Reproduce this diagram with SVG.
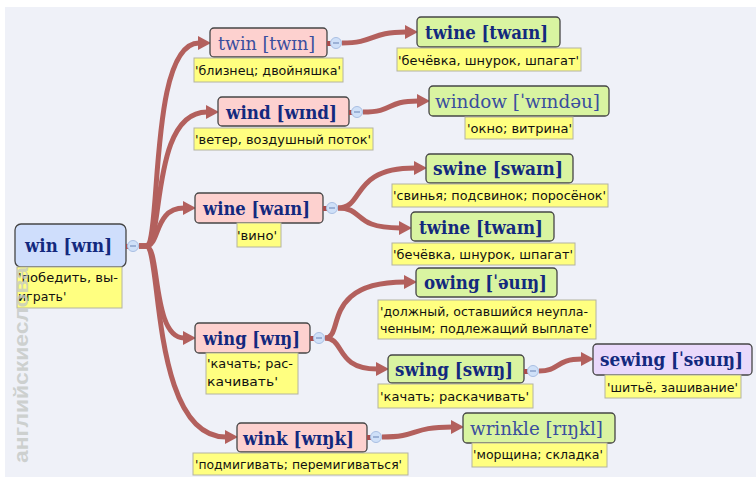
<svg xmlns="http://www.w3.org/2000/svg" width="756" height="478" viewBox="0 0 756 478">
<defs>
<marker id="ah" markerUnits="userSpaceOnUse" markerWidth="14" markerHeight="15" viewBox="0 -7.5 13 15" refX="1" refY="0" orient="auto">
<path d="M0,-7 L13,0 L0,7 z" fill="#b3605d"/>
</marker>
<style>
.c{fill:none;stroke:#b3605d;stroke-width:5;marker-end:url(#ah)}
.box{stroke:#454545;stroke-width:1.3}
.pk{fill:#fdd1cf}.gr{fill:#d9f4a1}.bl{fill:#cfdefc}.lv{fill:#e9d9fb}
.hw{font-family:"DejaVu Serif",serif;font-size:19px;font-stretch:condensed;fill:#13297e}
.b{font-weight:bold}
.r{fill:#3a4e9e}
.note{fill:#ffff80;stroke:#b4b4a0;stroke-width:1}
.nt{font-family:"DejaVu Sans",sans-serif;font-size:12.5px;fill:#111}
.mc{fill:#cfe0f8;stroke:#a9bfe3;stroke-width:1}
.mm{stroke:#7891c0;stroke-width:1.2}
.st{fill:#a84c4c}
</style>
</defs>
<rect x="0" y="0" width="756" height="478" fill="#ffffff"/>
<rect x="5" y="7" width="751" height="470" fill="#eff1f8"/>

<g id="connectors">
<path class="c" d="M139,246 L146,246 C162,246 148,43 199,43"/>
<path class="c" d="M139,246 L146,246 C164,246 150,112 207,112"/>
<path class="c" d="M139,246 L146,246 C160,246 154,208 184,208"/>
<path class="c" d="M139,246 L146,246 C160,246 152,338 184,338"/>
<path class="c" d="M139,246 L146,246 C162,246 150,437 226,437"/>
<path class="c" d="M342,43 C375,43 370,32 406,32"/>
<path class="c" d="M363,112 C395,112 385,101 418,101"/>
<path class="c" d="M338,208 C365,208 350,168 415,168"/>
<path class="c" d="M338,208 C365,208 352,228 400,228"/>
<path class="c" d="M325,338 C345,338 320,282 405,282"/>
<path class="c" d="M325,338 C345,338 335,369 377,369"/>
<path class="c" d="M539,371 C560,371 555,359 582,359"/>
<path class="c" d="M382,437 C420,437 410,427 452,427"/>
</g>

<g id="n-win">
<rect class="box bl" x="15" y="224" width="111" height="43" rx="6"/>
<text class="hw b" x="25" y="252" textLength="87" lengthAdjust="spacingAndGlyphs">win [wɪn]</text>
<rect class="note" x="17" y="267" width="105" height="41"/>
<text class="nt" x="18" y="282" textLength="100" lengthAdjust="spacingAndGlyphs">'победить, вы-</text>
<text class="nt" x="18" y="301">играть'</text>
<rect class="st" x="126" y="244" width="4" height="5"/>
<circle class="mc" cx="133" cy="246" r="5.5"/><line class="mm" x1="130" y1="246" x2="136" y2="246"/>
</g>

<g id="n-twin">
<rect class="box pk" x="210" y="28" width="117" height="29" rx="4"/>
<text class="hw r" x="218" y="50" textLength="97" lengthAdjust="spacingAndGlyphs">twin [twɪn]</text>
<rect class="note" x="194" y="58" width="149" height="24"/>
<text class="nt" x="195" y="75" textLength="146" lengthAdjust="spacingAndGlyphs">'близнец; двойняшка'</text>
<rect class="st" x="327" y="41" width="4" height="5"/>
<circle class="mc" cx="336" cy="43" r="5.5"/><line class="mm" x1="333" y1="43" x2="339" y2="43"/>
</g>

<g id="n-wind">
<rect class="box pk" x="218" y="97" width="131" height="29" rx="4"/>
<text class="hw b" x="226" y="119" textLength="111" lengthAdjust="spacingAndGlyphs">wind [wɪnd]</text>
<rect class="note" x="194" y="128" width="179" height="22"/>
<text class="nt" x="195" y="144" textLength="176" lengthAdjust="spacingAndGlyphs">'ветер, воздушный поток'</text>
<rect class="st" x="349" y="110" width="4" height="5"/>
<circle class="mc" cx="357" cy="112" r="5.5"/><line class="mm" x1="354" y1="112" x2="360" y2="112"/>
</g>

<g id="n-wine">
<rect class="box pk" x="195" y="193" width="128" height="30" rx="4"/>
<text class="hw b" x="203" y="215" textLength="107" lengthAdjust="spacingAndGlyphs">wine [waɪn]</text>
<rect class="note" x="237" y="223" width="44" height="24"/>
<text class="nt" x="237" y="240" textLength="40" lengthAdjust="spacingAndGlyphs">'вино'</text>
<rect class="st" x="323" y="206" width="4" height="5"/>
<circle class="mc" cx="332" cy="208" r="5.5"/><line class="mm" x1="329" y1="208" x2="335" y2="208"/>
</g>

<g id="n-wing">
<rect class="box pk" x="195" y="323" width="115" height="30" rx="4"/>
<text class="hw b" x="203" y="345" textLength="97" lengthAdjust="spacingAndGlyphs">wing [wɪŋ]</text>
<rect class="note" x="206" y="353" width="92" height="41"/>
<text class="nt" x="207" y="368" textLength="86" lengthAdjust="spacingAndGlyphs">'качать; рас-</text>
<text class="nt" x="207" y="386" textLength="71" lengthAdjust="spacingAndGlyphs">качивать'</text>
<rect class="st" x="310" y="336" width="4" height="5"/>
<circle class="mc" cx="319" cy="338" r="5.5"/><line class="mm" x1="316" y1="338" x2="322" y2="338"/>
</g>

<g id="n-wink">
<rect class="box pk" x="237" y="423" width="130" height="29" rx="4"/>
<text class="hw b" x="243" y="445" textLength="111" lengthAdjust="spacingAndGlyphs">wink [wɪŋk]</text>
<rect class="note" x="193" y="453" width="215" height="22"/>
<text class="nt" x="195" y="469" textLength="207" lengthAdjust="spacingAndGlyphs">'подмигивать; перемигиваться'</text>
<rect class="st" x="367" y="435" width="4" height="5"/>
<circle class="mc" cx="376" cy="437" r="5.5"/><line class="mm" x1="373" y1="437" x2="379" y2="437"/>
</g>

<g id="n-twine1">
<rect class="box gr" x="417" y="17" width="143" height="30" rx="4"/>
<text class="hw b" x="425" y="39" textLength="123" lengthAdjust="spacingAndGlyphs">twine [twaɪn]</text>
<rect class="note" x="397" y="48" width="184" height="23"/>
<text class="nt" x="398" y="65" textLength="181" lengthAdjust="spacingAndGlyphs">'бечёвка, шнурок, шпагат'</text>
</g>

<g id="n-window">
<rect class="box gr" x="429" y="86" width="180" height="30" rx="4"/>
<text class="hw r" x="435" y="108" textLength="165" lengthAdjust="spacingAndGlyphs">window [ˈwɪndəu]</text>
<rect class="note" x="465" y="117" width="108" height="22"/>
<text class="nt" x="467" y="133" textLength="105" lengthAdjust="spacingAndGlyphs">'окно; витрина'</text>
</g>

<g id="n-swine">
<rect class="box gr" x="426" y="154" width="147" height="29" rx="4"/>
<text class="hw b" x="433" y="175" textLength="130" lengthAdjust="spacingAndGlyphs">swine [swaɪn]</text>
<rect class="note" x="392" y="184" width="216" height="23"/>
<text class="nt" x="393" y="200" textLength="213" lengthAdjust="spacingAndGlyphs">'свинья; подсвинок; поросёнок'</text>
</g>

<g id="n-twine2">
<rect class="box gr" x="411" y="212" width="143" height="29" rx="4"/>
<text class="hw b" x="419" y="234" textLength="124" lengthAdjust="spacingAndGlyphs">twine [twaɪn]</text>
<rect class="note" x="392" y="243" width="183" height="22"/>
<text class="nt" x="393" y="259" textLength="180" lengthAdjust="spacingAndGlyphs">'бечёвка, шнурок, шпагат'</text>
</g>

<g id="n-owing">
<rect class="box gr" x="416" y="268" width="141" height="29" rx="4"/>
<text class="hw b" x="424" y="289" textLength="123" lengthAdjust="spacingAndGlyphs">owing [ˈəuɪŋ]</text>
<rect class="note" x="378" y="300" width="218" height="39"/>
<text class="nt" x="380" y="316" textLength="208" lengthAdjust="spacingAndGlyphs">'должный, оставшийся неупла-</text>
<text class="nt" x="380" y="333" textLength="212" lengthAdjust="spacingAndGlyphs">ченным; подлежащий выплате'</text>
</g>

<g id="n-swing">
<rect class="box gr" x="388" y="355" width="136" height="28" rx="4"/>
<text class="hw b" x="395" y="376" textLength="118" lengthAdjust="spacingAndGlyphs">swing [swɪŋ]</text>
<rect class="note" x="378" y="384" width="155" height="24"/>
<text class="nt" x="380" y="401" textLength="149" lengthAdjust="spacingAndGlyphs">'качать; раскачивать'</text>
<rect class="st" x="524" y="369" width="4" height="5"/>
<circle class="mc" cx="533" cy="371" r="5.5"/><line class="mm" x1="530" y1="371" x2="536" y2="371"/>
</g>

<g id="n-sewing">
<rect class="box lv" x="593" y="344" width="159" height="31" rx="4"/>
<text class="hw b" x="600" y="366" textLength="143" lengthAdjust="spacingAndGlyphs">sewing [ˈsəuɪŋ]</text>
<rect class="note" x="605" y="375" width="136" height="23"/>
<text class="nt" x="607" y="392" textLength="131" lengthAdjust="spacingAndGlyphs">'шитьё, зашивание'</text>
</g>

<g id="n-wrinkle">
<rect class="box gr" x="463" y="413" width="152" height="30" rx="4"/>
<text class="hw r" x="470" y="435" textLength="133" lengthAdjust="spacingAndGlyphs">wrinkle [rɪŋkl]</text>
<rect class="note" x="472" y="443" width="135" height="24"/>
<text class="nt" x="473" y="459" textLength="130" lengthAdjust="spacingAndGlyphs">'морщина; складка'</text>
</g>

<text x="28" y="463" transform="rotate(-90 28 463)" font-family="'Liberation Sans',sans-serif" font-weight="bold" font-size="20" fill="#c4c8c4" fill-opacity="0.8" textLength="196" lengthAdjust="spacingAndGlyphs">английскиеслова</text>
</svg>
